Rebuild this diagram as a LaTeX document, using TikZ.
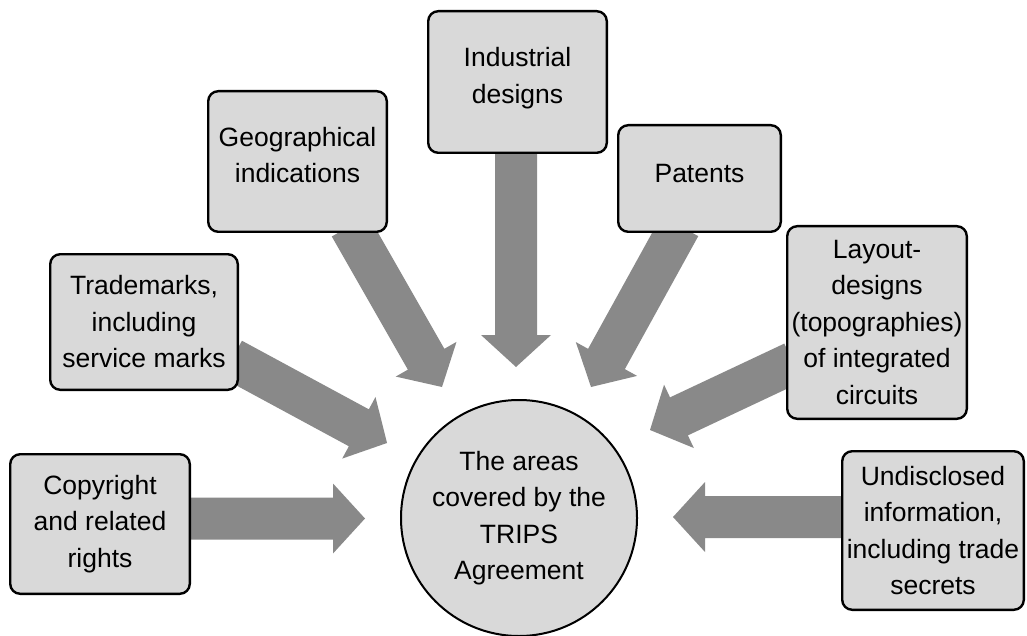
\documentclass[tikz,border=0pt]{standalone}
\usepackage{fontspec}
\setmainfont{Liberation Sans}
\usetikzlibrary{calc,backgrounds}
\definecolor{boxfill}{HTML}{D9D9D9}
\definecolor{arrowgray}{HTML}{898989}
\newcommand{\fatarrow}[2]{%
  \coordinate (fa-b) at ($(#2)!32pt!(#1)$);
  \coordinate (fa-s) at ($(#1)!-8pt!(#2)$);
  \fill[arrowgray] ($(fa-s)!21pt!90:(#2)$) -- ($(fa-b)!21pt!90:(#2)$)
    -- ($(fa-b)!35pt!90:(#2)$) -- (#2) -- ($(fa-b)!35pt!-90:(#2)$)
    -- ($(fa-b)!21pt!-90:(#2)$) -- ($(fa-s)!21pt!-90:(#2)$) -- cycle;}
\newcommand{\lowpad}[1]{\rule[-#1]{0pt}{#1}}
\tikzset{
  areabox/.style={draw=black, line width=2.4pt, fill=boxfill, rounded corners=10pt,
    align=center, inner sep=0pt, font=\fontsize{26.5}{36.5}\selectfont},
  hub/.style={circle, draw=black, line width=2pt, fill=boxfill, align=center,
    inner sep=0pt, minimum size=236pt, font=\fontsize{26.5}{36.5}\selectfont}
}
\begin{document}
\begin{tikzpicture}[x=1pt,y=-1pt]
\useasboundingbox (0,0) rectangle (1027,636);
\node[areabox, minimum width=179.6pt, minimum height=139.6pt] (cr) at (100,524) {Copyright\\and related\\rights};
\node[areabox, minimum width=187.6pt, minimum height=135.6pt] (tm) at (144,322) {Trademarks,\\including\\service marks};
\node[areabox, minimum width=178.6pt, minimum height=140.6pt] (gi) at (297.5,161.5) {Geographical\\indications\lowpad{13pt}};
\node[areabox, minimum width=178.6pt, minimum height=141.6pt] (id) at (517.5,82) {Industrial\\designs\lowpad{13.5pt}};
\node[areabox, minimum width=162.6pt, minimum height=106.6pt] (pa) at (699.5,178.5) {Patents\lowpad{10pt}};
\node[areabox, minimum width=179.6pt, minimum height=192.6pt] (ld) at (877,322.5) {Layout-\\designs\\(topographies)\\of integrated\\circuits};
\node[areabox, minimum width=181.6pt, minimum height=158.6pt] (ui) at (933,530.5) {Undisclosed\\information,\\including trade\\secrets};
\node[hub] (c) at (519,518) {The areas\\covered by the\\TRIPS\\Agreement};
\begin{scope}[on background layer]
\coordinate (s1) at (191,518.5); \coordinate (t1) at (365,518.5);
\coordinate (s2) at (239,363);   \coordinate (t2) at (387,443);
\coordinate (s3) at (354,233);   \coordinate (t3) at (442,387);
\coordinate (s4) at (516,154);   \coordinate (t4) at (516,367);
\coordinate (s5) at (676,233);   \coordinate (t5) at (591,387);
\coordinate (s6) at (786,366);   \coordinate (t6) at (650,430);
\coordinate (s7) at (841,517);   \coordinate (t7) at (673,517);
\fatarrow{s1}{t1}
\fatarrow{s2}{t2}
\fatarrow{s3}{t3}
\fatarrow{s4}{t4}
\fatarrow{s5}{t5}
\fatarrow{s6}{t6}
\fatarrow{s7}{t7}
\end{scope}
\end{tikzpicture}
\end{document}
